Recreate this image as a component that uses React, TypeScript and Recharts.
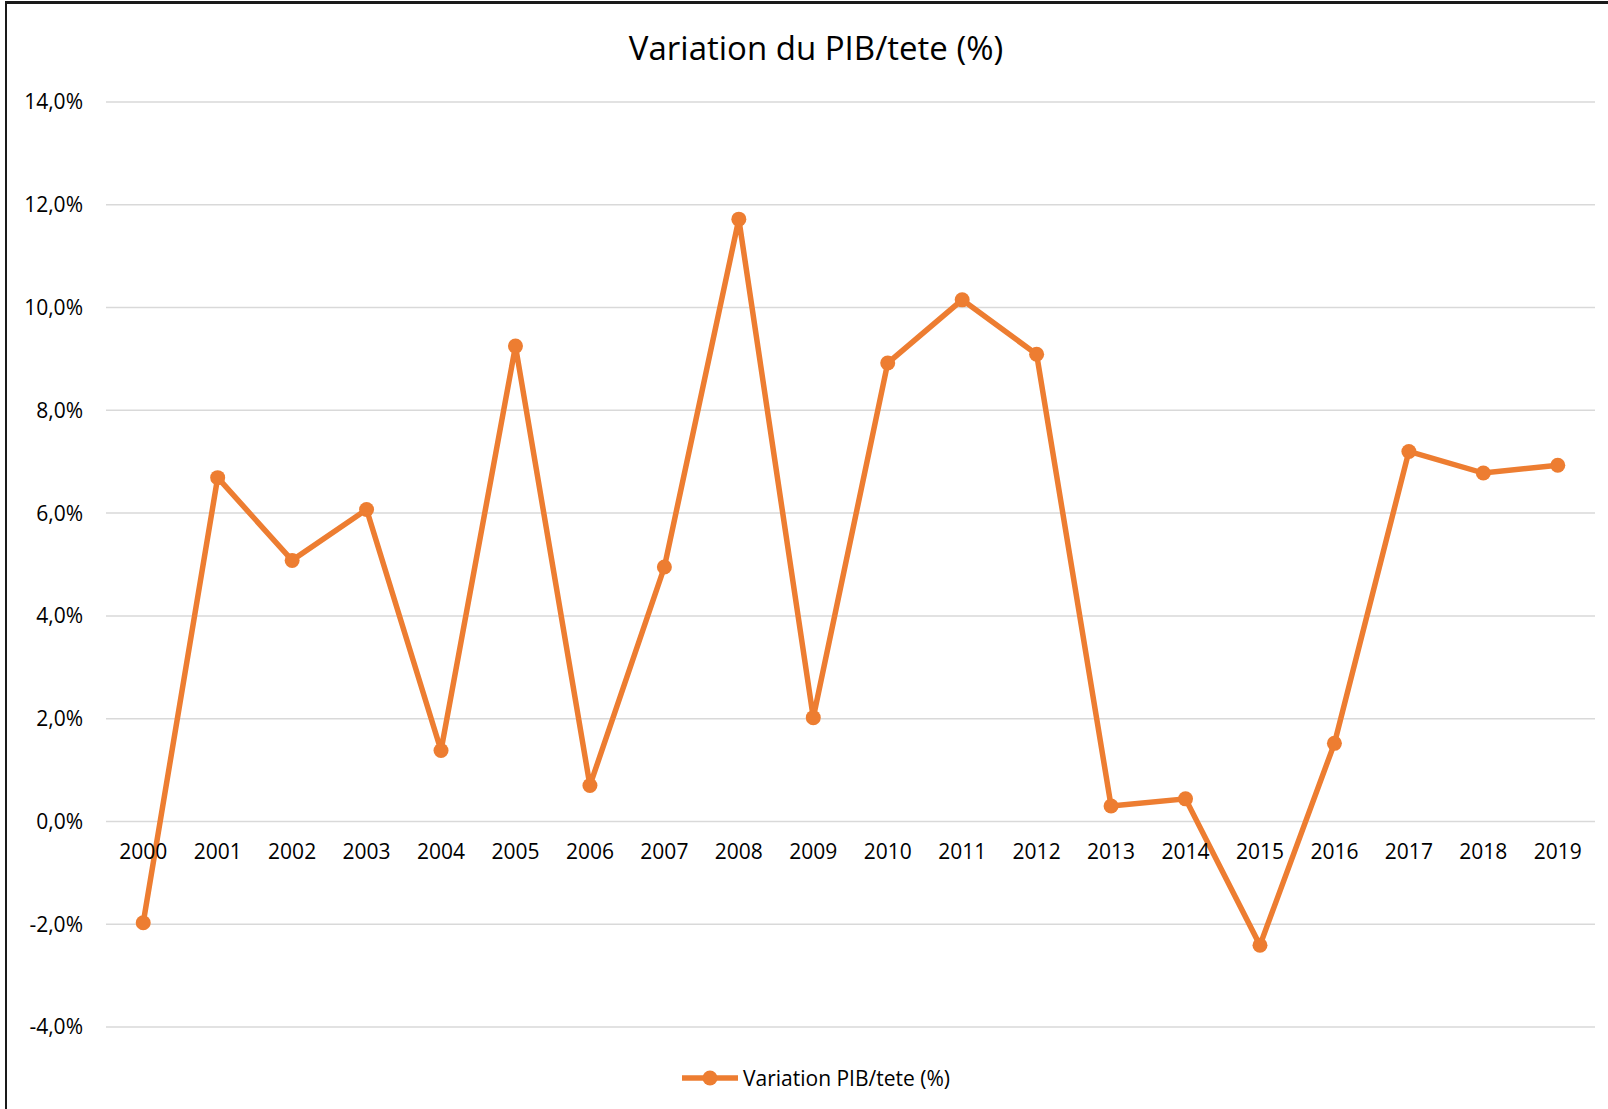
import React from "react";
import { LineChart, Line, XAxis, YAxis, CartesianGrid, Legend } from "recharts";

const years = [
  "2000", "2001", "2002", "2003", "2004", "2005", "2006", "2007", "2008", "2009",
  "2010", "2011", "2012", "2013", "2014", "2015", "2016", "2017", "2018", "2019",
];
const variation = [
  -1.97, 6.69, 5.08, 6.07, 1.38, 9.25, 0.7, 4.95, 11.72, 2.02,
  8.92, 10.15, 9.09, 0.3, 0.44, -2.41, 1.52, 7.2, 6.78, 6.93,
];
const yTicks = [-4, -2, 0, 2, 4, 6, 8, 10, 12, 14];

const seriesName = "Variation PIB/tete (%)";
const title = "Variation du PIB/tete (%)";

const data = years.map((year, i) => ({ year, value: variation[i] }));

const ORANGE = "#ED7D31";
const FONT = "'Open Sans', sans-serif";

const fmt = (v: number) => `${v.toFixed(1).replace(".", ",")}%`;

// Excel draws category labels next to the 0 line, not at the bottom of the plot
const YearTick = (props: any) => {
  const { x, y, payload } = props;
  return (
    <text x={x} y={y - 206 + 30} dy="0.36em" textAnchor="middle" fill="#000" fontSize={21} fontFamily={FONT}>
      {payload.value}
    </text>
  );
};

const LegendContent = () => (
  <div style={{ display: "flex", justifyContent: "center", alignItems: "center", height: 40, paddingLeft: 24 }}>
    <svg width={56} height={20} style={{ marginRight: 5 }}>
      <line x1={0} y1={10} x2={56} y2={10} stroke={ORANGE} strokeWidth={5.5} />
      <circle cx={28} cy={10} r={7.5} fill={ORANGE} />
    </svg>
    <span style={{ fontFamily: FONT, fontSize: 21, color: "#000" }}>{seriesName}</span>
  </div>
);

export default function App() {
  return (
    <div style={{ position: "fixed", left: 0, top: 0, width: 1608, height: 1109, background: "#fff", overflow: "hidden" }}>
      <div
        style={{
          position: "absolute", left: 5, top: 1, width: 1700, height: 1200,
          borderTop: "3px solid #1a1a1a", borderLeft: "2px solid #1a1a1a",
        }}
      />
      <div
        style={{
          position: "absolute", left: 0, top: 25, width: 1632, textAlign: "center",
          fontFamily: FONT, fontSize: 33, color: "#000", lineHeight: "46px",
        }}
      >
        {title}
      </div>
      <div style={{ position: "absolute", left: 0, top: 0 }}>
        <LineChart width={1608} height={1109} data={data} margin={{ top: 102, right: 13, bottom: 11, left: 0 }}>
          <CartesianGrid vertical={false} stroke="#d9d9d9" strokeWidth={1.5} />
          <XAxis
            dataKey="year"
            scale="band"
            axisLine={false}
            tickLine={false}
            tickSize={0}
            tickMargin={0}
            height={31}
            interval={0}
            tick={<YearTick />}
          />
          <YAxis
            domain={[-4, 14]}
            ticks={yTicks}
            width={106}
            axisLine={false}
            tickLine={false}
            tickSize={0}
            tickMargin={23}
            tickFormatter={fmt}
            tick={{ fill: "#000", fontSize: 21, fontFamily: FONT }}
          />
          <Legend
            verticalAlign="bottom"
            height={40}
            wrapperStyle={{ left: 0, width: 1608 }}
            content={<LegendContent />}
          />
          <Line
            type="linear"
            dataKey="value"
            name={seriesName}
            stroke={ORANGE}
            strokeWidth={5.5}
            dot={{ r: 7.5, fill: ORANGE, stroke: ORANGE, strokeWidth: 0 }}
            activeDot={false}
            isAnimationActive={false}
          />
        </LineChart>
      </div>
    </div>
  );
}
